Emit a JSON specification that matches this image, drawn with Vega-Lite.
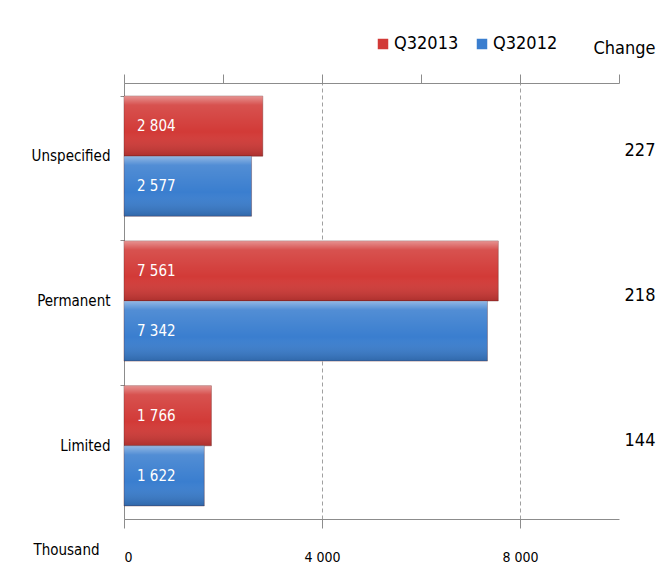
{
  "$schema": "https://vega.github.io/schema/vega-lite/v6.json",
  "width": 495,
  "height": 436,
  "autosize": {"type": "none"},
  "padding": {"left": 124, "top": 83, "right": 45, "bottom": 63},
  "background": "white",
  "config": {
    "locale": {"number": {"decimal": ".", "thousands": " ", "grouping": [3], "currency": ["", ""]}},
    "font": "DejaVu Sans Condensed, Roboto, sans-serif",
    "view": {"stroke": null},
    "axis": {"domainColor": "#8c8c8c", "tickColor": "#8c8c8c", "labelColor": "#000000", "labelFont": "DejaVu Sans Condensed, Roboto, sans-serif", "titleFont": "DejaVu Sans Condensed, Roboto, sans-serif"},
    "legend": {"labelFont": "DejaVu Sans Condensed, Roboto, sans-serif"},
    "title": {"font": "DejaVu Sans Condensed, Roboto, sans-serif"}
  },
  "title": {"text": "Change", "anchor": "end", "orient": "top", "dx": 0, "dy": 45, "offset": 22, "fontSize": 18, "fontWeight": "normal", "color": "#000000"},
  "datasets": {
    "bars": [
      {"category": "Unspecified", "series": "Q32013", "value": 2804},
      {"category": "Unspecified", "series": "Q32012", "value": 2577},
      {"category": "Permanent", "series": "Q32013", "value": 7561},
      {"category": "Permanent", "series": "Q32012", "value": 7342},
      {"category": "Limited", "series": "Q32013", "value": 1766},
      {"category": "Limited", "series": "Q32012", "value": 1622}
    ],
    "change": [
      {"category": "Unspecified", "change": 227},
      {"category": "Permanent", "change": 218},
      {"category": "Limited", "change": 144}
    ]
  },
  "resolve": {"axis": {"x": "independent"}},
  "layer": [
    {
      "data": {"name": "bars"},
      "mark": {"type": "bar", "stroke": "#5a1a1a", "strokeOpacity": 0.35, "strokeWidth": 1},
      "encoding": {
        "y": {"field": "category", "type": "nominal", "sort": ["Unspecified", "Permanent", "Limited"],
              "scale": {"paddingInner": 0.17, "paddingOuter": 0.09},
              "axis": {"title": null, "bandPosition": 0, "tickSize": 4, "labelPadding": 10, "labelFontSize": 15}},
        "yOffset": {"field": "series", "type": "nominal", "sort": ["Q32013", "Q32012"]},
        "x": {"field": "value", "type": "quantitative", "scale": {"domain": [0, 10000], "nice": false},
              "axis": {"orient": "top", "values": [0, 2000, 4000, 6000, 8000, 10000], "labels": false, "tickSize": 9, "grid": false, "title": null}},
        "color": {"field": "series", "type": "nominal", "sort": ["Q32013", "Q32012"],
                  "scale": {"domain": ["Q32013", "Q32012"], "range": ["#d23a37", "#3a7ecf"]},
                  "legend": {"orient": "none", "legendX": 250, "legendY": -48, "direction": "horizontal", "title": null,
                             "symbolType": "square", "symbolSize": 110, "labelFontSize": 18, "columnPadding": 14, "labelOffset": 2, "symbolStrokeWidth": 0}}
      }
    },
    {
      "data": {"name": "bars"},
      "mark": {"type": "bar", "fill": {"gradient": "linear", "x1": 0, "y1": 0, "x2": 0, "y2": 1,
        "stops": [
          {"offset": 0, "color": "rgba(255,255,255,0.45)"},
          {"offset": 0.15, "color": "rgba(255,255,255,0.12)"},
          {"offset": 0.6, "color": "rgba(255,255,255,0)"},
          {"offset": 1, "color": "rgba(0,0,0,0.18)"}
        ]}},
      "encoding": {
        "y": {"field": "category", "type": "nominal", "sort": ["Unspecified", "Permanent", "Limited"]},
        "yOffset": {"field": "series", "type": "nominal", "sort": ["Q32013", "Q32012"]},
        "x": {"field": "value", "type": "quantitative", "axis": null}
      }
    },
    {
      "data": {"name": "bars"},
      "mark": {"type": "text", "align": "left", "baseline": "middle", "dx": 13, "fontSize": 15, "color": "white"},
      "encoding": {
        "y": {"field": "category", "type": "nominal", "sort": ["Unspecified", "Permanent", "Limited"]},
        "yOffset": {"field": "series", "type": "nominal", "sort": ["Q32013", "Q32012"]},
        "x": {"datum": 0, "type": "quantitative",
              "axis": {"orient": "bottom", "values": [0, 4000, 8000], "format": ",d", "tickSize": 9, "labelPadding": 22, "labelFontSize": 14,
                       "grid": true, "gridDash": [4, 3], "gridColor": "#a0a0a0", "gridOpacity": 1,
                       "title": "Thousand", "titleX": -58, "titleY": 30, "titleAlign": "center", "titleBaseline": "middle", "titleFontSize": 15, "titleFontWeight": "normal"}},
        "text": {"field": "value", "type": "quantitative", "format": ",d"}
      }
    },
    {
      "data": {"name": "change"},
      "mark": {"type": "text", "align": "center", "baseline": "middle", "dx": 21, "dy": -5, "fontSize": 18, "color": "#000000"},
      "encoding": {
        "y": {"field": "category", "type": "nominal", "sort": ["Unspecified", "Permanent", "Limited"]},
        "x": {"datum": 10000, "type": "quantitative", "axis": null},
        "text": {"field": "change", "type": "quantitative"}
      }
    }
  ]
}
